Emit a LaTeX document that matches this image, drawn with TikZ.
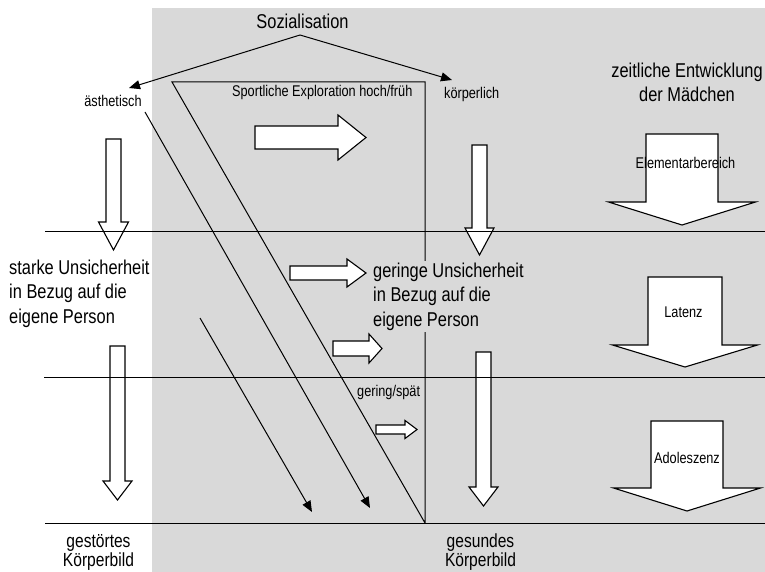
\documentclass[tikz,border=0pt]{standalone}
\usepackage{fontspec}
\setmainfont{Liberation Sans}[FakeStretch=0.82]
\usetikzlibrary{arrows.meta}
\definecolor{bggray}{RGB}{217,217,217}
\newcommand\rblk[6]{\draw[blk] (#1,#4-#5) -- (#2,#4-#5) -- (#2,#4-#6) -- (#3,#4) -- (#2,#4+#6) -- (#2,#4+#5) -- (#1,#4+#5) -- cycle;}
\newcommand\dblk[6]{\draw[blk] (#1-#5,#2) -- (#1-#5,#3) -- (#1-#6,#3) -- (#1,#4) -- (#1+#6,#3) -- (#1+#5,#3) -- (#1+#5,#2) -- cycle;}
\begin{document}
\begin{tikzpicture}[x=1pt,y=-1pt,
  big/.style={font=\fontsize{20}{24.5}\selectfont, inner sep=0pt},
  mid/.style={font=\fontsize{19}{19.5}\selectfont, inner sep=0pt, align=center},
  small/.style={font=\fontsize{15.5}{18}\selectfont, inner sep=0pt},
  thinline/.style={line width=1pt},
  arr/.style={thinline,-{Triangle[length=11pt,width=9pt]}},
  blk/.style={draw,fill=white,line width=1.1pt,line join=miter},
]
\useasboundingbox (0,0) rectangle (765,572);
\fill[bggray] (152,8) rectangle (765,572);

% block arrows (right)
\rblk{255}{338}{366}{137.5}{11.5}{22.5}
\rblk{290}{347}{366}{273}{7}{14}
\rblk{333}{369}{382}{348.5}{7.5}{14.5}
\rblk{376}{405}{417}{429.5}{4.5}{9}
% block arrows (down)
\dblk{113.5}{139}{222}{250}{7.5}{15}
\dblk{117.5}{346}{481}{500}{7.5}{14.5}
\dblk{479.5}{145}{228}{255}{7.5}{14.5}
\dblk{483.5}{352}{487}{506}{7.5}{14.5}
\dblk{682}{134}{202}{225}{36}{73.5}
\dblk{685}{277}{345}{367}{37}{72.5}
\dblk{687}{421}{488}{511}{36}{73.5}

% horizontal lines
\coordinate (h1l) at (45,231); \coordinate (h1r) at (765,231);
\coordinate (h2l) at (44,377); \coordinate (h2r) at (765,377);
\coordinate (h3l) at (45,523); \coordinate (h3r) at (765,523);
\draw[thinline] (h1l) -- (h1r);
\draw[thinline] (h2l) -- (h2r);
\draw[thinline] (h3l) -- (h3r);

% trapezoid
\coordinate (ttl) at (172,82);
\coordinate (ttr) at (425,82);
\coordinate (tb) at (425,523);
\draw[thinline,line join=miter] (tb) -- (ttl) -- (ttr) -- (tb);

% diagonal arrows
\coordinate (d1s) at (145,112); \coordinate (d1e) at (370,508);
\coordinate (d2s) at (200,318); \coordinate (d2e) at (312,512);
\draw[arr] (d1s) -- (d1e);
\draw[arr] (d2s) -- (d2e);

% Sozialisation
\node[big,anchor=base] (soz) at (302.5,29) {Sozialisation};
\coordinate (sozb) at (300,35);
\coordinate (aestt) at (129,88);
\coordinate (koerpt) at (452,80);
\draw[arr] (sozb) -- (aestt);
\draw[arr] (sozb) -- (koerpt);

% texts
\node[small,anchor=base] (aest) at (113,107) {ästhetisch};
\node[small,anchor=base west] (sport) at (232,97) {Sportliche Exploration hoch/früh};
\node[small,anchor=base west] (koerp) at (444,99) {körperlich};
\node[big,anchor=base] (zeit1) at (687,78) {zeitliche Entwicklung};
\node[big,anchor=base] (zeit2) at (687,102) {der Mädchen};
\node[small,anchor=base] (elem) at (685.5,168) {Elementarbereich};
\node[small,anchor=base] (lat) at (683.5,317) {Latenz};
\node[small,anchor=base] (ado) at (687,463) {Adoleszenz};
\node[small,anchor=base west] (gsp) at (357,396) {gering/spät};

\node[big,anchor=base west,align=left] (stark) at (9,323) {starke Unsicherheit\\in Bezug auf die\\eigene Person};
\node[big,anchor=base west,align=left,fill=bggray,inner sep=1.5pt] (gering) at (371.5,326) {geringe Unsicherheit\\in Bezug auf die\\eigene Person};

\node[mid,anchor=base] (gest) at (98.5,566.5) {gestörtes\\Körperbild};
\node[mid,anchor=base] (ges) at (480.5,566.5) {gesundes\\Körperbild};
\end{tikzpicture}
\end{document}
